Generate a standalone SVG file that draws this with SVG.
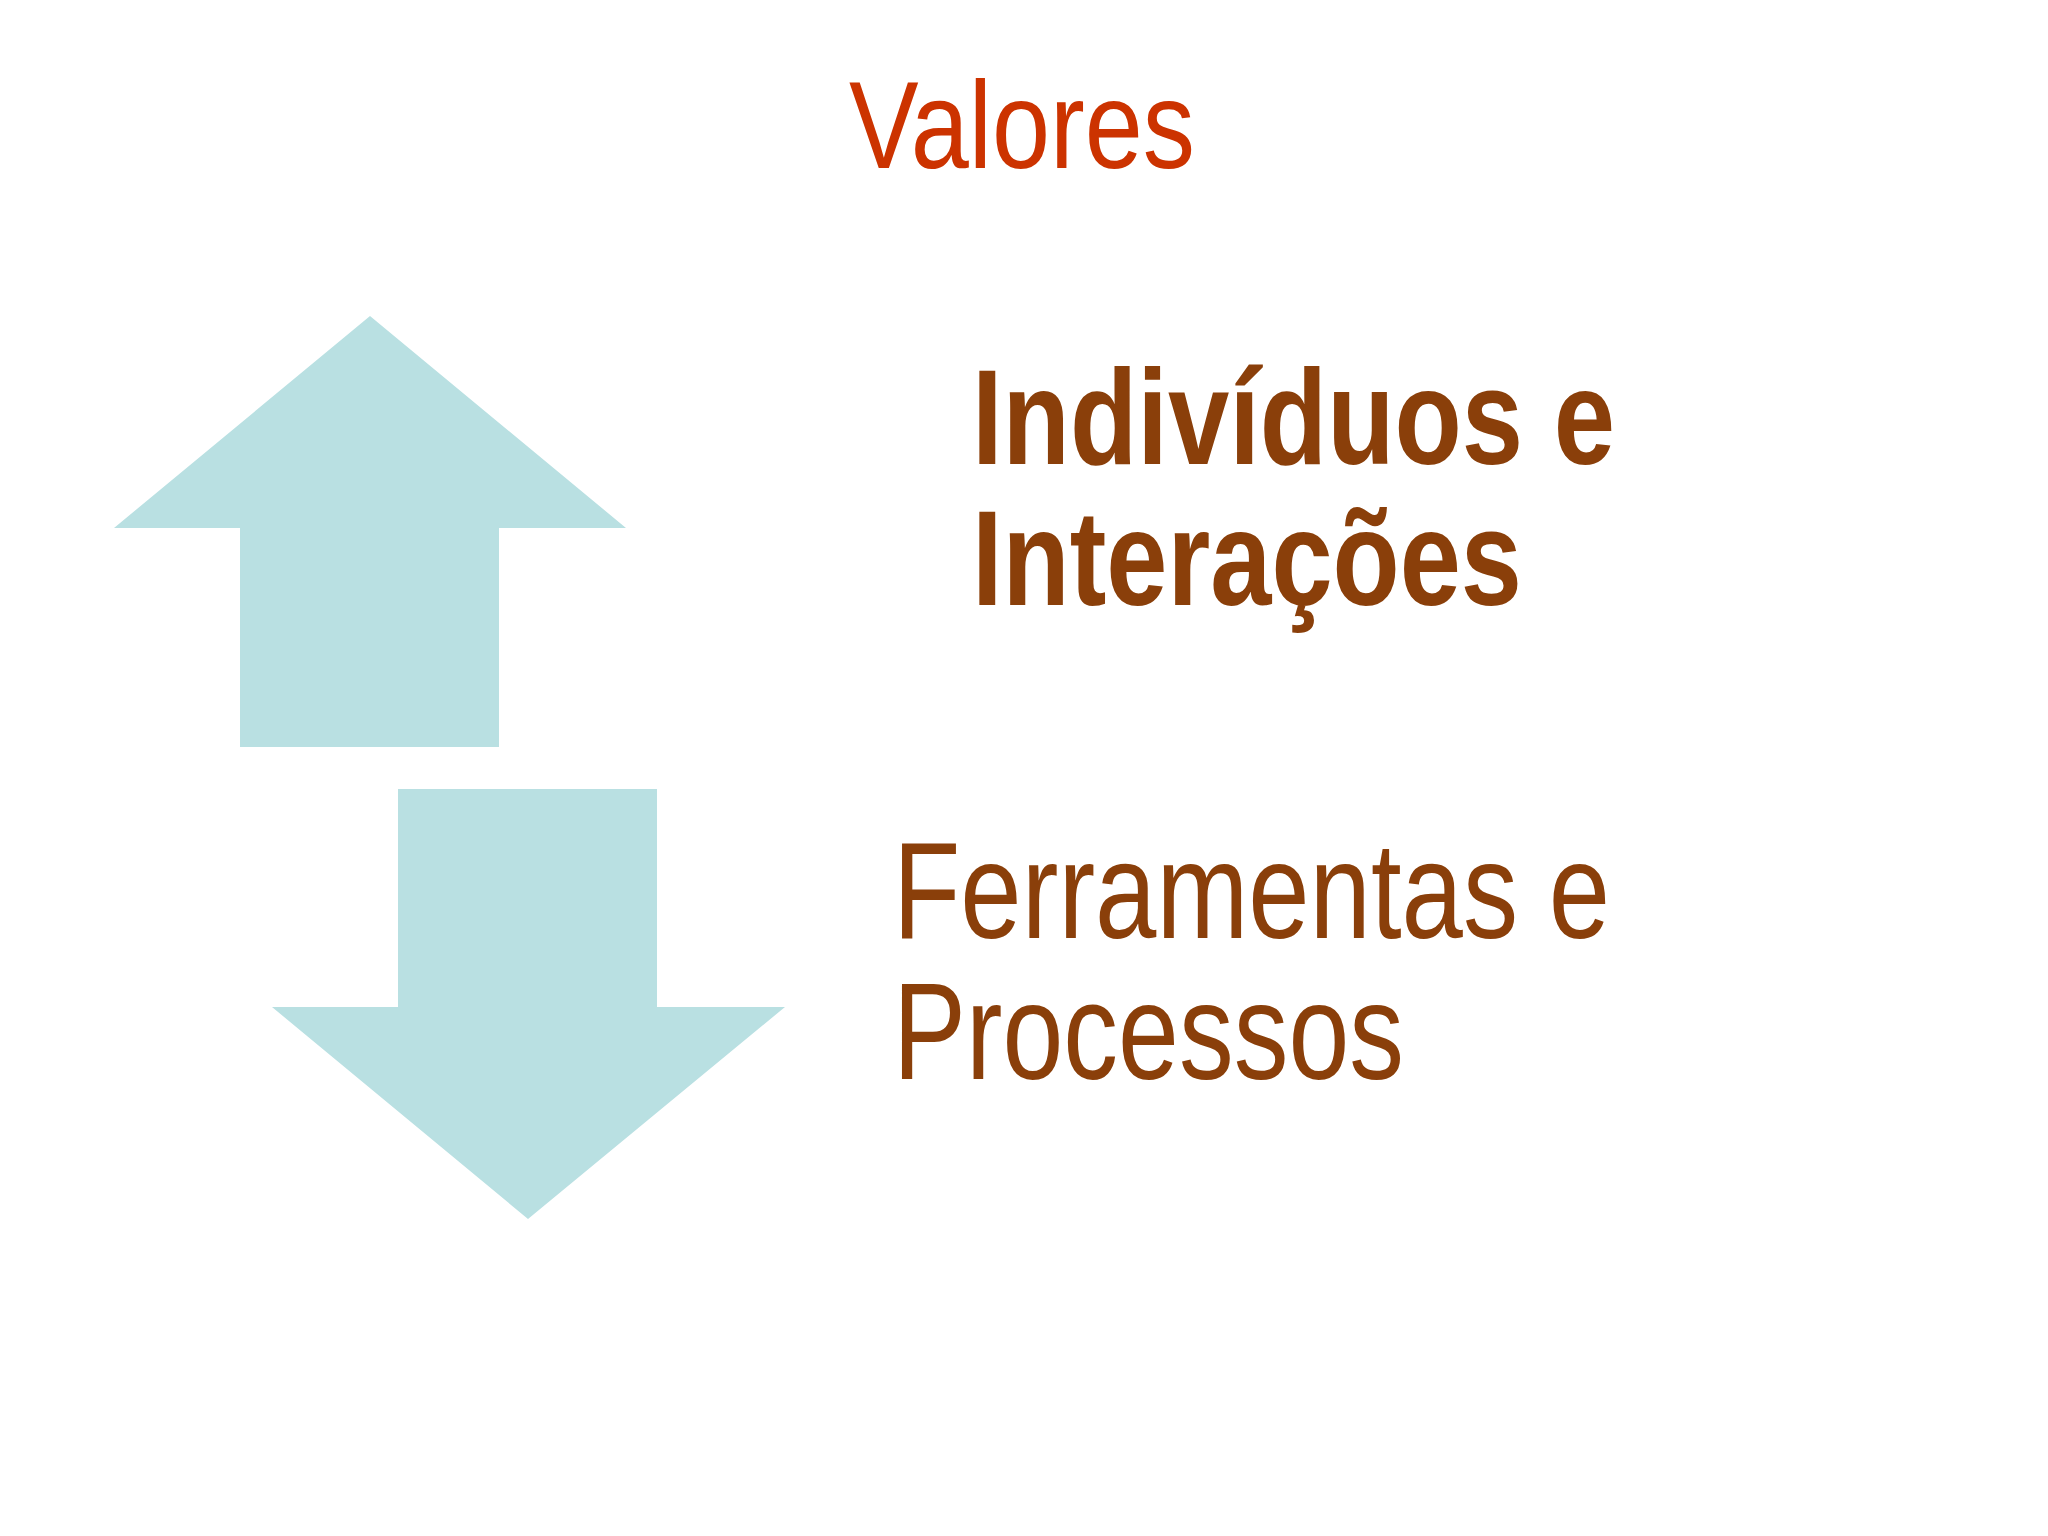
<svg xmlns="http://www.w3.org/2000/svg" width="2048" height="1536" viewBox="0 0 2048 1536">
<style>
.ar{fill:#b9e0e2}
.t{font-family:"Liberation Sans",Arial,sans-serif;fill:#8a3f0a}
</style>
<rect width="2048" height="1536" fill="#ffffff"/>
<g id="title"><text x="849" y="168" font-size="124" textLength="346" lengthAdjust="spacingAndGlyphs" font-family="Liberation Sans, Arial, sans-serif" fill="#cc3300">Valores</text></g>
<g id="arrow-up"><polygon class="ar" points="370,316 626,528 499,528 499,747 240,747 240,528 114,528"/></g>
<g id="arrow-down"><polygon class="ar" points="398,789 657,789 657,1007 785,1007 528,1219 272,1007 398,1007"/></g>
<g id="individuos"><text class="t" font-weight="bold" font-size="135"><tspan x="972" y="464" textLength="643" lengthAdjust="spacingAndGlyphs">Indivíduos e</tspan><tspan x="972" y="605" textLength="550" lengthAdjust="spacingAndGlyphs">Interações</tspan></text></g>
<g id="ferramentas"><text class="t" font-size="137"><tspan x="893" y="938" textLength="717" lengthAdjust="spacingAndGlyphs">Ferramentas e</tspan><tspan x="893" y="1079" textLength="511" lengthAdjust="spacingAndGlyphs">Processos</tspan></text></g>
<g id="connectors"/>
</svg>
